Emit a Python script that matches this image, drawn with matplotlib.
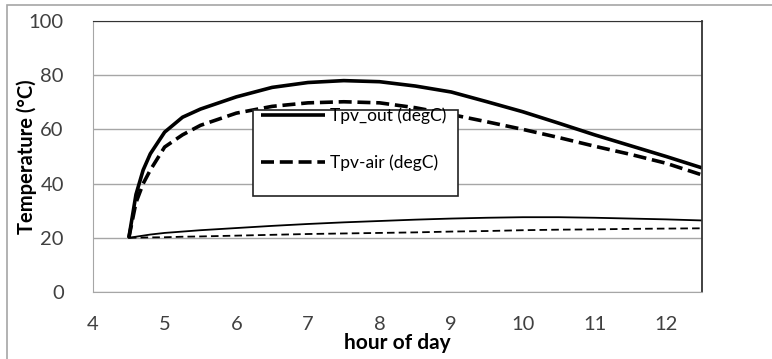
import matplotlib.pyplot as plt
from matplotlib.patches import Rectangle

plt.rcParams['font.family'] = ['Lato', 'DejaVu Sans']

# hour of day
hours = [4.5, 4.6, 4.7, 4.8, 5.0, 5.25, 5.5, 6.0, 6.5, 7.0, 7.5, 8.0, 8.5, 9.0, 9.5, 10.0, 10.5, 11.0, 11.5, 12.0, 12.5]

# thick curves (legend series)
tpv_out = [20, 36, 45, 51, 59, 64.5, 67.5, 72, 75.5, 77.3, 78, 77.6, 76, 73.8, 70.2, 66.5, 62.3, 58, 54, 50, 45.8]
tpv_air = [20, 33, 40, 45, 53.5, 58, 61.5, 66, 68.5, 69.8, 70.2, 69.8, 68, 65.5, 62.8, 60, 57, 53.8, 50.8, 47.5, 43.2]

# thin curves
t_thin_solid = [20, 20.4, 20.8, 21.2, 21.8, 22.3, 22.8, 23.6, 24.4, 25.1, 25.7, 26.2, 26.7, 27.1, 27.4, 27.6, 27.6, 27.4, 27.1, 26.8, 26.4]
t_thin_dash = [20, 20.05, 20.1, 20.15, 20.2, 20.4, 20.5, 20.8, 21.1, 21.4, 21.6, 21.8, 22.0, 22.3, 22.5, 22.8, 23.0, 23.1, 23.3, 23.4, 23.5]

labels = ['Tpv_out (degC)', 'Tpv-air (degC)']

W, H = 772, 359
fig = plt.figure(figsize=(W / 100, H / 100), dpi=100)
ax = fig.add_axes([93 / W, 1 - 292 / H, (702 - 93) / W, (292 - 21) / H])

ax.plot(hours, tpv_out, color='black', lw=2.6, label=labels[0], solid_capstyle='butt')
ax.plot(hours, tpv_air, color='black', lw=2.6, ls=(0, (3.6, 1.6)), label=labels[1])
ax.plot(hours, t_thin_solid, color='black', lw=1.3)
ax.plot(hours, t_thin_dash, color='black', lw=1.3, ls=(0, (4.2, 2.3)))

ax.set_xlim(4, 12.5)
ax.set_ylim(0, 100)
ax.set_xticks(range(4, 13))
ax.set_yticks(range(0, 101, 20))
ax.yaxis.grid(True, color='#a6a6a6', lw=1)
ax.set_axisbelow(True)
ax.tick_params(length=0, labelsize=14.5, colors='#404040')
ax.tick_params(axis='y', pad=21)
ax.tick_params(axis='x', pad=17)
for s in ['left', 'bottom']:
    ax.spines[s].set_color('#a6a6a6')
for s in ['top', 'right']:
    ax.spines[s].set_color('#333333')
ax.spines['right'].set_linewidth(1.3)

ax.set_xlabel('hour of day', fontsize=15, fontweight='bold')
ax.set_ylabel('Temperature (°C)', fontsize=14.5, fontweight='bold')
ax.xaxis.set_label_coords((397 - 93) / 609, -(343 - 292) / 271)
ax.yaxis.set_label_coords((27 - 93) / 609, 0.5)
ax.xaxis.label.set_va('center')
ax.yaxis.label.set_va('center')

# legend box (white, on top of the curves)
box = Rectangle((253 / W, 1 - 196 / H), 205 / W, 86 / H, transform=fig.transFigure,
                facecolor='white', edgecolor='#222222', lw=1.2, zorder=5, clip_on=False)
ax.add_patch(box)
leg = ax.legend(loc='upper left', bbox_to_anchor=(252 / W, 1 - 99 / H),
                bbox_transform=fig.transFigure, frameon=False, fontsize=12.5,
                handlelength=3.7, handletextpad=0.3, labelspacing=1.75, borderpad=0)
leg.set_zorder(6)

# outer chart border
fig.add_artist(Rectangle((7 / W, -0.1), 1.0, 1 - 5 / H + 0.1, transform=fig.transFigure,
                         facecolor='none', edgecolor='#a6a6a6', lw=1.2))

fig.savefig('out.png', dpi=100)
